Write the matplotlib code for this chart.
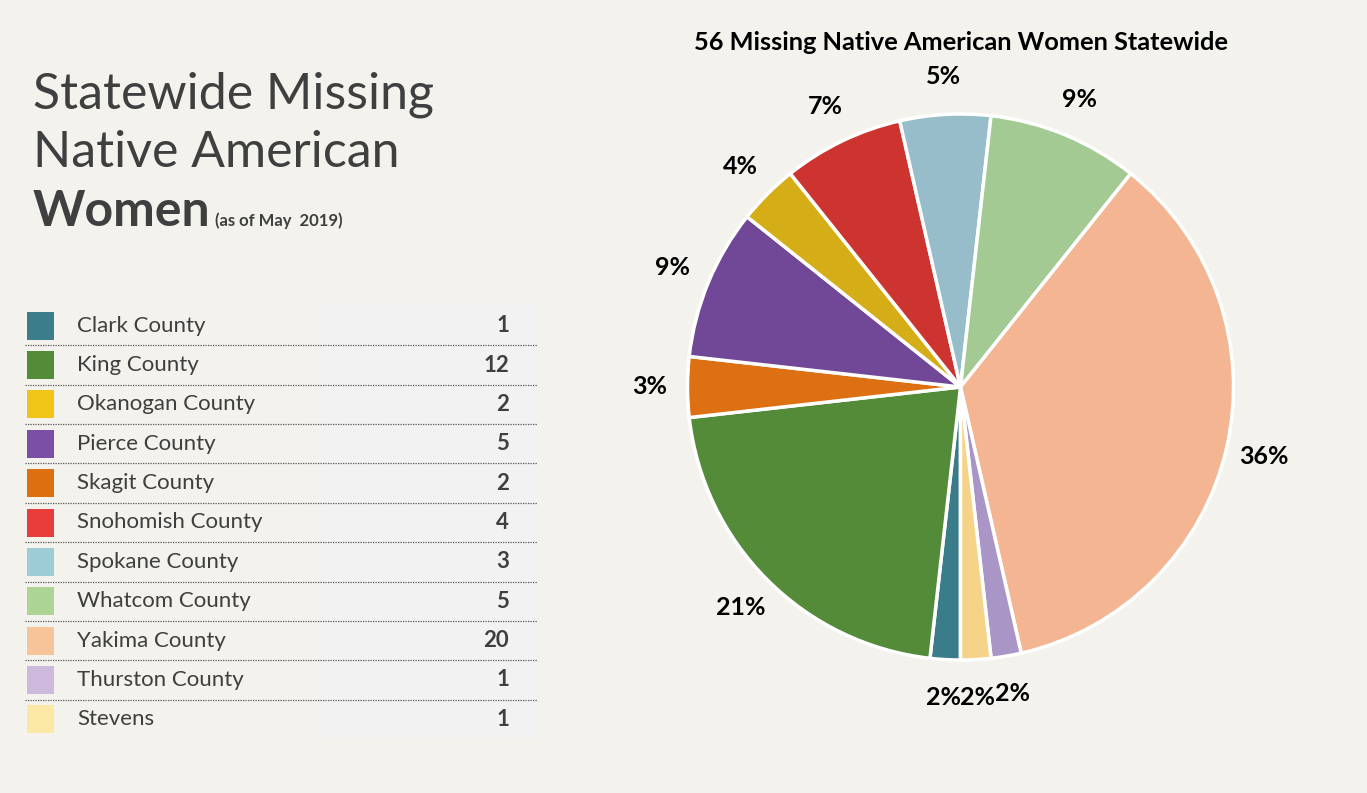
"""Statewide missing Native American women: county table + pie chart."""
import matplotlib
matplotlib.use("Agg")
import matplotlib.pyplot as plt
from matplotlib.patches import Rectangle

# --- data (legend / table order) ---
COUNTIES = ["Clark County", "King County", "Okanogan County", "Pierce County",
            "Skagit County", "Snohomish County", "Spokane County", "Whatcom County",
            "Yakima County", "Thurston County", "Stevens"]
COUNTS = [1, 12, 2, 5, 2, 4, 3, 5, 20, 1, 1]
SWATCH = ["#3b7d8b", "#548b38", "#f1c518", "#7c4fa6", "#dc7011", "#e83d3a",
          "#9dccd4", "#acd495", "#f7c398", "#cdb8de", "#fbe8a5"]

# --- pie order (clockwise from bottom) and the percent labels printed on it ---
PIE_ORDER = ["Clark County", "King County", "Skagit County", "Pierce County",
             "Okanogan County", "Snohomish County", "Spokane County", "Whatcom County",
             "Yakima County", "Thurston County", "Stevens"]
PIE_LABELS = ["2%", "21%", "3%", "9%", "4%", "7%", "5%", "9%", "36%", "2%", "2%"]
PIE_COLORS = {"Clark County": "#3b7c8b", "King County": "#538b38",
              "Skagit County": "#dc7012", "Pierce County": "#714797",
              "Okanogan County": "#d5ae17", "Snohomish County": "#cd3430",
              "Spokane County": "#96bdc9", "Whatcom County": "#a3ca92",
              "Yakima County": "#f4b592", "Thurston County": "#a996c6",
              "Stevens": "#f5d489"}

BG = "#f3f2ec"
TXT = "#3f3f3f"
W, H = 1367, 793

plt.rcParams["font.family"] = ["Lato", "DejaVu Sans"]

fig = plt.figure(figsize=(W / 100, H / 100), dpi=100, facecolor=BG)

# --- left panel in pixel coordinates ---
lax = fig.add_axes([0, 0, 1, 1])
lax.set_xlim(0, W)
lax.set_ylim(H, 0)
lax.axis("off")

lax.text(33, 108, "Statewide Missing", fontsize=36, fontweight="normal", color=TXT)
lax.text(33, 167, "Native American", fontsize=36, fontweight="normal", color=TXT)
lax.text(33, 226, "Women", fontsize=36, fontweight="bold", color=TXT)
lax.text(215, 226, "(as of May  2019)", fontsize=12, fontweight="bold", color=TXT)

# table
top, bottom = 306, 739
lax.add_patch(Rectangle((318, top - 3), 537 - 318, bottom - top + 3, color="#f2f2f2", lw=0))
row_h = (bottom - top) / len(COUNTIES)
for i, (name, n, c) in enumerate(zip(COUNTIES, COUNTS, SWATCH)):
    yc = top + row_h * (i + 0.5)
    lax.add_patch(Rectangle((27, yc - 14), 27, 28, color=c, lw=0))
    lax.text(77, yc, name, fontsize=16, color=TXT, va="center")
    lax.text(509, yc, str(n), fontsize=16, fontweight="bold", color=TXT,
             va="center", ha="right")
    if i < len(COUNTIES) - 1:
        yl = top + row_h * (i + 1)
        lax.plot([25, 537], [yl, yl], color="#555555", lw=0.9, ls=(0, (1, 1)))

# --- pie ---
cx, cy, r = 960.5, 387, 273
pax = fig.add_axes([(cx - r) / W, (H - cy - r) / H, 2 * r / W, 2 * r / H])
pax.set_facecolor(BG)
pie_vals = [COUNTS[COUNTIES.index(k)] for k in PIE_ORDER]
wedges, texts = pax.pie(pie_vals, labels=PIE_LABELS,
                        colors=[PIE_COLORS[k] for k in PIE_ORDER],
                        startangle=-90, counterclock=False, labeldistance=1.14,
                        wedgeprops=dict(edgecolor="white", linewidth=2.5),
                        textprops=dict(fontsize=18, fontweight="bold", color="black"))
for t in texts:
    t.set_horizontalalignment("center")
    t.set_verticalalignment("center")
pax.set_xlim(-1, 1)
pax.set_ylim(-1, 1)
pax.set_aspect("equal")

fig.text(cx / W, 1 - 42 / H, "56 Missing Native American Women Statewide",
         fontsize=18.3, fontweight="bold", ha="center", va="center", color="black")

plt.savefig("out.png", dpi=100, facecolor=BG)
